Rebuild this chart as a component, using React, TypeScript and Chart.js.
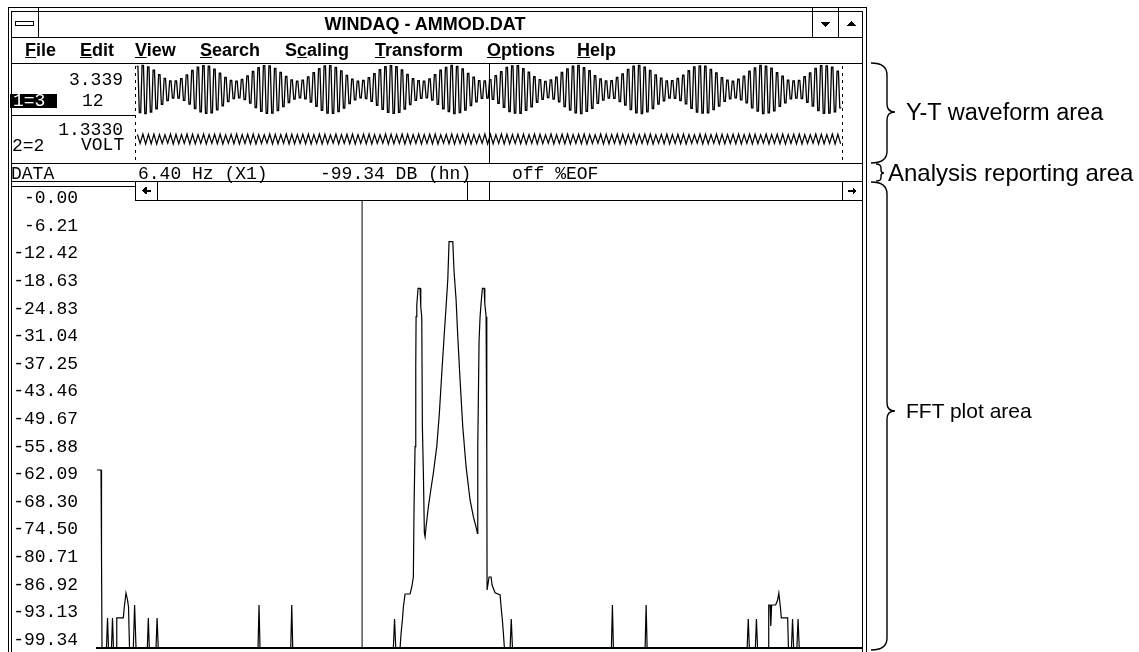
import React, { useEffect, useRef } from "react";
import { Chart, registerables } from "chart.js";
Chart.register(...registerables);

const MONO = '"Liberation Mono", "Courier New", monospace';
const SANS = '"Liberation Sans", Arial, Helvetica, sans-serif';

// ---------------- FFT spectrum (vertices) ----------------
const fftFreqHz = [
  0.0, 0.097, 0.109, 0.121, 0.229, 0.254, 0.278, 0.35, 0.374, 0.398,
  0.476, 0.477, 0.635, 0.659, 0.7, 0.737, 0.761, 0.785, 0.877, 0.908,
  0.942, 1.215, 1.239, 1.263, 1.425, 1.451, 1.478, 3.888, 3.912, 3.936,
  4.678, 4.702, 4.726, 7.155, 7.184, 7.213, 7.317, 7.342, 7.373, 7.397,
  7.438, 7.559, 7.6, 7.638, 7.655, 7.679, 7.696, 7.704, 7.721, 7.752,
  7.801, 7.817, 7.841, 7.856, 7.88, 7.904, 7.921, 7.945, 8.001, 8.059,
  8.121, 8.203, 8.266, 8.324, 8.38, 8.428, 8.469, 8.5, 8.59, 8.621,
  8.67, 8.711, 8.766, 8.831, 8.911, 9.007, 9.087, 9.169, 9.184, 9.193,
  9.225, 9.249, 9.273, 9.305, 9.346, 9.363, 9.394, 9.411, 9.418, 9.466,
  9.515, 9.539, 9.611, 9.732, 9.756, 9.787, 9.812, 9.836, 9.974, 10.002,
  10.031, 12.42, 12.444, 12.468, 13.234, 13.258, 13.282, 15.697, 15.724, 15.75,
  15.895, 15.921, 15.948, 16.211, 16.218, 16.252, 16.268, 16.288, 16.385, 16.433,
  16.462, 16.494, 16.523, 16.675, 16.694, 16.767, 16.793, 16.82, 16.897, 16.926,
  16.955, 18.47,
];
const fftDb = [
  -61.23, -61.23, -80.07, -99.34, -99.34, -92.91, -99.34, -99.34, -92.91, -99.34,
  -99.34, -92.91, -92.91, -90.56, -87.56, -89.06, -90.56, -99.34, -99.34, -90.13,
  -99.34, -99.34, -92.91, -99.34, -99.34, -92.91, -99.34, -99.34, -90.13, -99.34,
  -99.34, -90.13, -99.34, -99.34, -93.13, -99.34, -99.34, -96.19, -93.34, -90.56,
  -87.78, -87.78, -86.28, -84.14, -69.09, -56.24, -39.11, -28.41, -25.9, -22.33,
  -22.33, -26.27, -28.41, -51.96, -61.87, -74.72, -75.51, -73.37, -69.09, -65.51,
  -61.87, -56.24, -49.09, -40.53, -32.69, -26.27, -20.55, -12.35, -12.35, -18.78,
  -24.83, -32.69, -41.96, -51.96, -60.52, -67.65, -71.23, -74.07, -74.78, -56.24,
  -33.4, -28.41, -25.54, -22.33, -22.33, -25.54, -28.41, -57.65, -86.92, -84.14,
  -84.14, -85.85, -87.5, -87.99, -90.5, -93.34, -96.19, -99.34, -99.34, -93.13,
  -99.34, -99.34, -90.13, -99.34, -99.34, -90.13, -99.34, -99.34, -93.13, -99.34,
  -99.34, -93.13, -99.34, -99.34, -90.13, -90.13, -94.63, -90.13, -90.13, -89.06,
  -87.56, -90.13, -92.91, -92.91, -99.34, -99.34, -93.13, -99.34, -99.34, -93.13,
  -99.34, -99.34,
];
const cursorFreqHz = 6.4;
const freqMin = 0;
const freqMax = 18.47;
const dbFloor = -99.34;
const dbTop = 0;
const dbTickValues = [
  0, -6.21, -12.42, -18.63, -24.83, -31.04, -37.25, -43.46, -49.67, -55.88,
  -62.09, -68.3, -74.5, -80.71, -86.92, -93.13, -99.34,
];
const dbTickLabels = [
  "-0.00", "-6.21", "-12.42", "-18.63", "-24.83", "-31.04", "-37.25", "-43.46", "-49.67", "-55.88",
  "-62.09", "-68.30", "-74.50", "-80.71", "-86.92", "-93.13", "-99.34",
];

// ---------------- Y-T waveforms: peak amplitude of each carrier cycle ----------------
const ch1CycleAmp = [
  0.96, 1.0, 0.94, 0.8, 0.62, 0.46, 0.36, 0.36, 0.45, 0.61, 0.79, 0.93, 0.99, 0.97, 0.85,
  0.68, 0.5, 0.38, 0.35, 0.42, 0.57, 0.75, 0.91, 0.99, 0.98, 0.88, 0.71, 0.54, 0.4, 0.35,
  0.39, 0.52, 0.7, 0.87, 0.98, 0.99, 0.92, 0.77, 0.59, 0.43, 0.35, 0.38, 0.49, 0.66, 0.83,
  0.95, 0.99, 0.95, 0.81, 0.63, 0.45, 0.37, 0.35, 0.44, 0.62, 0.8, 0.92, 1.0, 0.96, 0.86,
  0.67, 0.51, 0.37, 0.36, 0.41, 0.58, 0.74, 0.92, 0.98, 0.99, 0.87, 0.72, 0.53, 0.41, 0.34,
  0.4, 0.51, 0.71, 0.86, 0.97, 1.0, 0.91, 0.78, 0.58, 0.44, 0.36, 0.37, 0.5, 0.65, 0.84,
  0.97, 1.0, 0.93, 0.79, 0.61, 0.47, 0.36, 0.37, 0.46, 0.6, 0.78, 0.94, 0.98, 0.97, 0.84,
  0.69, 0.49, 0.39, 0.35, 0.43, 0.56, 0.76, 0.9, 1.0, 0.97, 0.89, 0.7, 0.55, 0.39, 0.36,
  0.38, 0.53, 0.69, 0.88, 0.99, 0.98, 0.93, 0.76,
];
const ch2CycleAmp = [
  0.9, 1.0, 0.95, 1.0, 0.9, 0.85, 1.0, 0.95, 0.9, 1.0, 0.95, 0.9, 1.0, 0.9, 0.95, 1.0,
  0.85, 0.95, 1.0, 0.9, 0.95, 1.0, 0.9, 0.85, 1.0, 0.95, 0.9, 1.0, 0.95, 0.9, 0.95, 1.0,
  0.9, 1.0, 0.95, 0.85, 1.0, 0.9, 0.95, 1.0, 0.9, 0.95, 1.0, 0.9, 0.85, 1.0, 0.95, 0.9,
  1.0, 0.95, 0.9, 1.0, 0.9, 0.95, 1.0, 0.85, 0.95, 1.0, 0.9, 0.95, 1.0, 0.9, 0.85, 1.0,
  0.95, 0.9, 1.0, 0.95, 0.9, 0.95, 1.0, 0.9, 1.0, 0.95, 0.85, 1.0, 0.9, 0.95, 1.0, 0.9,
  0.95, 1.0, 0.9, 0.85, 1.0, 0.95, 0.9, 1.0, 0.95, 0.9, 1.0, 0.9, 0.95, 1.0, 0.85, 0.95,
  1.0, 0.9, 0.95, 1.0, 0.9, 0.85, 1.0, 0.95, 0.9, 1.0, 0.95, 0.9, 0.95, 1.0, 0.9, 1.0,
  0.95, 0.85, 1.0, 0.9, 0.95, 1.0, 0.9, 0.95, 1.0, 0.9, 0.85, 1.0, 0.95, 0.9, 1.0, 0.95,
];

const menuItems = [
  { pre: "", key: "F", post: "ile", x: 25 },
  { pre: "", key: "E", post: "dit", x: 80 },
  { pre: "", key: "V", post: "iew", x: 135 },
  { pre: "", key: "S", post: "earch", x: 200 },
  { pre: "S", key: "c", post: "aling", x: 285 },
  { pre: "", key: "T", post: "ransform", x: 375 },
  { pre: "", key: "O", post: "ptions", x: 487 },
  { pre: "", key: "H", post: "elp", x: 577 },
];

function WaveChart(props: {
  amps: number[]; range: number; lw: number; square: boolean;
  left: number; top: number; width: number; height: number;
}) {
  const ref = useRef<HTMLCanvasElement | null>(null);
  useEffect(() => {
    const pts: { x: number; y: number }[] = [];
    props.amps.forEach((a, i) => {
      if (props.square) {
        pts.push({ x: i + 0.1, y: a });
        pts.push({ x: i + 0.35, y: a });
        pts.push({ x: i + 0.6, y: -a });
        pts.push({ x: i + 0.85, y: -a });
      } else {
        pts.push({ x: i + 0.25, y: a });
        pts.push({ x: i + 0.75, y: -a });
      }
    });
    const chart = new Chart(ref.current as HTMLCanvasElement, {
      type: "line",
      data: {
        datasets: [
          { data: pts, borderColor: "#000", borderWidth: props.lw, pointRadius: 0, tension: 0, fill: false },
        ],
      },
      options: {
        animation: false,
        responsive: false,
        events: [],
        plugins: { legend: { display: false }, tooltip: { enabled: false } },
        layout: { padding: 0 },
        scales: {
          x: { type: "linear", display: false, min: 0, max: props.amps.length },
          y: { type: "linear", display: false, min: -props.range, max: props.range },
        },
      },
    });
    return () => chart.destroy();
  }, []);
  return (
    <canvas
      ref={ref}
      width={props.width}
      height={props.height}
      style={{ position: "absolute", left: props.left, top: props.top, width: props.width, height: props.height }}
    />
  );
}

function FftChart() {
  const ref = useRef<HTMLCanvasElement | null>(null);
  useEffect(() => {
    const spectrum = fftFreqHz.map((f, i) => ({ x: f, y: fftDb[i] }));
    const chart = new Chart(ref.current as HTMLCanvasElement, {
      type: "line",
      data: {
        datasets: [
          { data: spectrum, borderColor: "#000", borderWidth: 1.2, pointRadius: 0, tension: 0, fill: false, yAxisID: "y" },
          {
            data: [
              { x: cursorFreqHz, y: dbFloor },
              { x: cursorFreqHz, y: dbTop },
            ],
            borderColor: "#000",
            borderWidth: 1,
            pointRadius: 0,
            fill: false,
            yAxisID: "y",
          },
        ],
      },
      options: {
        animation: false,
        responsive: false,
        events: [],
        plugins: { legend: { display: false }, tooltip: { enabled: false } },
        layout: { padding: { top: 14, bottom: 12, left: 0, right: 0 } },
        scales: {
          x: {
            type: "linear",
            min: freqMin,
            max: freqMax,
            ticks: { display: false },
            grid: { display: false, drawTicks: false },
            border: { display: true, color: "#000", width: 2 },
            afterFit: (s: any) => {
              s.height = 0;
              s.paddingLeft = 0;
              s.paddingRight = 0;
            },
          },
          y: { type: "linear", display: false, min: dbFloor, max: dbTop },
          yl: {
            type: "linear",
            position: "left",
            min: -101.14,
            max: 3.26,
            afterBuildTicks: (s: any) => {
              s.ticks = dbTickValues.map((v) => ({ value: v }));
            },
            afterFit: (s: any) => {
              s.width = 87;
              s.paddingTop = 0;
              s.paddingBottom = 0;
            },
            grid: { display: false, drawTicks: false },
            border: { display: false },
            ticks: {
              autoSkip: false,
              padding: 19,
              color: "#000",
              font: { family: MONO, size: 18 },
              callback: (_v: any, i: number) => dbTickLabels[i],
            },
          },
        },
      },
    } as any);
    return () => chart.destroy();
  }, []);
  return (
    <canvas ref={ref} width={852} height={490} style={{ position: "absolute", left: 10, top: 170, width: 852, height: 490 }} />
  );
}

function MonoText(props: { text: string; cy: number; left?: number; right?: number; color?: string }) {
  const st: any = {
    position: "absolute",
    top: props.cy - 8.7,
    fontFamily: MONO,
    fontSize: 18,
    lineHeight: "18px",
    whiteSpace: "pre",
    color: props.color || "#000",
  };
  if (props.left !== undefined) st.left = props.left;
  if (props.right !== undefined) st.right = 1139 - props.right;
  return <div style={st}>{props.text}</div>;
}

export default function App() {
  const L = (x1: number, y1: number, x2: number, y2: number, w = 1, dash?: string) => (
    <line x1={x1} y1={y1} x2={x2} y2={y2} stroke="#000" strokeWidth={w} strokeDasharray={dash} />
  );
  return (
    <div style={{ position: "absolute", left: 0, top: 0, width: 1139, height: 652, overflow: "hidden", background: "#fff" }}>
      <WaveChart amps={ch1CycleAmp} range={1.06} lw={1.3} square={true} left={136} top={64} width={706} height={51} />
      <WaveChart amps={ch2CycleAmp} range={4.6} lw={1.2} square={false} left={136} top={116} width={706} height={46} />
      <FftChart />
      <svg width={1139} height={652} style={{ position: "absolute", left: 0, top: 0 }} shapeRendering="crispEdges">
        {/* scrollbar background */}
        <rect x={135} y={182} width={728} height={18} fill="#fff" />
        {/* window frames */}
        <rect x={8.5} y={7.5} width={858} height={700} fill="none" stroke="#000" />
        <rect x={11.5} y={11.5} width={851} height={700} fill="none" stroke="#000" />
        {L(11, 37.5, 863, 37.5)}
        {L(38.5, 7, 38.5, 37)}
        {L(812.5, 7, 812.5, 37)}
        {L(838.5, 7, 838.5, 37)}
        <rect x={15.5} y={21.5} width={18} height={4} fill="#fff" stroke="#000" />
        <polygon points="820,22 830,22 825,27" fill="#000" />
        <polygon points="846,26 856,26 851,21" fill="#000" />
        {L(11, 63.5, 863, 63.5)}
        {L(11, 115.5, 135, 115.5)}
        {L(11, 163.5, 863, 163.5)}
        {L(11, 181.5, 863, 181.5)}
        {L(135, 200.5, 863, 200.5)}
        {L(135.5, 181, 135.5, 200)}
        {L(157.5, 181, 157.5, 200)}
        {L(467.5, 181, 467.5, 200)}
        {L(489.5, 181, 489.5, 200)}
        {L(842.5, 181, 842.5, 200)}
        {L(11, 186.5, 135, 186.5)}
        <polygon points="142,190.5 146.5,186.5 146.5,194.5" fill="#000" />
        <rect x={146} y={189.5} width={5} height={2} fill="#000" />
        <polygon points="857,191 852.5,187 852.5,195" fill="#000" />
        <rect x={848} y={190} width={5} height={2} fill="#000" />
        {/* waveform cursor and edges */}
        {L(489.5, 64, 489.5, 163)}
        {L(135.5, 66, 135.5, 163, 1, "3 4")}
        {L(842.5, 66, 842.5, 163, 1, "3 4")}
        <rect x={10} y={94} width={47} height={14} fill="#000" />
        {/* braces */}
        <g fill="none" stroke="#000" strokeWidth={1.4} shapeRendering="geometricPrecision">
          <path d="M871,63 Q887,63 887,75 L887,104 Q887,112 895,112 Q887,112 887,120 L887,151 Q887,163 871,163" />
          <path d="M876,164 Q881,164 881,168 L881,170 Q881,173 884,173 Q881,173 881,176 L881,178 Q881,181 876,181" />
          <path d="M871,182 Q887,182 887,194 L887,403 Q887,411 895,411 Q887,411 887,419 L887,638 Q887,650 871,650" />
        </g>
      </svg>
      {/* title */}
      <div
        style={{
          position: "absolute", left: 38, top: 11, width: 774, height: 26, display: "flex",
          alignItems: "center", justifyContent: "center", fontFamily: SANS, fontWeight: "bold", fontSize: 18,
        }}
      >
        WINDAQ - AMMOD.DAT
      </div>
      {menuItems.map((m) => (
        <div
          key={m.x}
          style={{ position: "absolute", left: m.x, top: 41.3, fontFamily: SANS, fontWeight: "bold", fontSize: 18, lineHeight: "18px", whiteSpace: "pre" }}
        >
          {m.pre}
          <span style={{ textDecoration: "underline" }}>{m.key}</span>
          {m.post}
        </div>
      ))}
      <MonoText text="3.339" cy={80} right={123} />
      <MonoText text="12" cy={101} left={82} />
      <MonoText text="1=3" cy={101} left={13} color="#fff" />
      <MonoText text="1.3330" cy={130} right={123} />
      <MonoText text="VOLT" cy={145} left={81} />
      <MonoText text="2=2" cy={146} left={12} />
      <MonoText text="DATA" cy={174} left={11} />
      <MonoText text="6.40 Hz (X1)" cy={174} left={138} />
      <MonoText text="-99.34 DB (hn)" cy={174} left={320} />
      <MonoText text="off %EOF" cy={174} left={512} />
      <div style={{ position: "absolute", left: 906, top: 98, fontFamily: SANS, fontSize: 23.5, lineHeight: "28px", whiteSpace: "pre" }}>
        Y-T waveform area
      </div>
      <div style={{ position: "absolute", left: 888, top: 159, fontFamily: SANS, fontSize: 24, lineHeight: "28px", whiteSpace: "pre" }}>
        Analysis reporting area
      </div>
      <div style={{ position: "absolute", left: 906, top: 397, fontFamily: SANS, fontSize: 21, lineHeight: "28px", whiteSpace: "pre" }}>
        FFT plot area
      </div>
    </div>
  );
}
